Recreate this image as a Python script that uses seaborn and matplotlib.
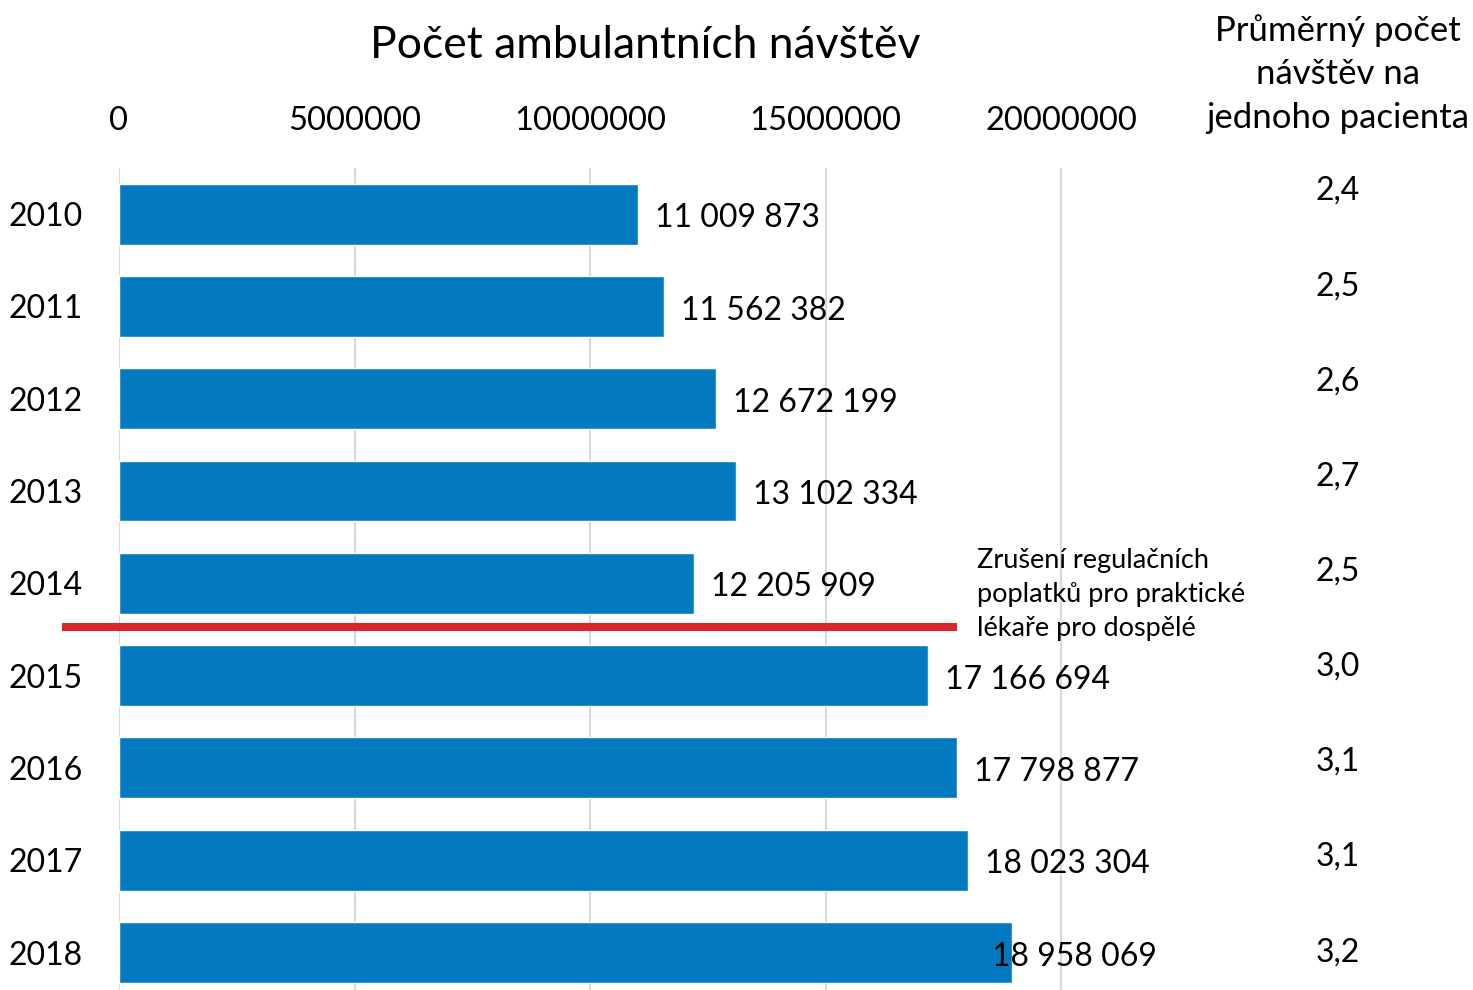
import matplotlib
matplotlib.use("Agg")
import matplotlib.pyplot as plt
import seaborn as sns
import pandas as pd

# Outpatient visits per year and average visits per patient
years = ["2010", "2011", "2012", "2013", "2014", "2015", "2016", "2017", "2018"]
visits = [11009873, 11562382, 12672199, 13102334, 12205909,
          17166694, 17798877, 18023304, 18958069]
visits_per_patient = [2.4, 2.5, 2.6, 2.7, 2.5, 3.0, 3.1, 3.1, 3.2]
x_ticks = [0, 5000000, 10000000, 15000000, 20000000]

title = "Počet ambulantních návštěv"
right_header = "Průměrný počet\nnávštěv na\njednoho pacienta"
note = "Zrušení regulačních\npoplatků pro praktické\nlékaře pro dospělé"

BLUE = "#037ABF"
RED = "#D9262E"
GRID = "#D9D9D9"
FONT = ["Lato", "DejaVu Sans"]

sns.set_theme(style="white")
plt.rcParams["font.family"] = FONT

W, H = 1473, 990
fig = plt.figure(figsize=(W / 100, H / 100), dpi=100)

# main axes: left edge at x=119 px, top at y=168 px, down to the bottom edge
ax_left, ax_right, ax_top, ax_bottom = 119, 1180, 168, 990
ax = fig.add_axes([ax_left / W, 1 - ax_bottom / H,
                   (ax_right - ax_left) / W, (ax_bottom - ax_top) / H])

df = pd.DataFrame({"year": years, "visits": visits})
sns.barplot(data=df, x="visits", y="year", orient="h", color=BLUE,
            saturation=1, width=0.66, ax=ax, zorder=3)

px_per_unit = (1061 - 119) / 20000000
ax.set_xlim(0, (ax_right - ax_left) / px_per_unit)
ax.set_ylim(8.406, -0.5)

ax.xaxis.tick_top()
ax.set_xticks(x_ticks)
ax.set_xticklabels([str(t) for t in x_ticks], fontsize=23.5)
ax.tick_params(axis="x", length=0, pad=23, colors="black")
ax.tick_params(axis="y", length=0, pad=26, labelsize=23, colors="black")
ax.set_xlabel("")
ax.set_ylabel("")
ax.grid(axis="x", color=GRID, linewidth=1.5, zorder=0)
ax.grid(axis="y", visible=False)
for s in ax.spines.values():
    s.set_visible(False)
ax.set_axisbelow(True)

# value labels beside each bar (space as thousands separator)
offset = 17 / px_per_unit
for i, v in enumerate(visits):
    lbl = f"{v:,}".replace(",", " ")
    dx = offset if i < len(visits) - 1 else -20 / px_per_unit
    ax.text(v + dx, i + 0.045, lbl, ha="left", va="center", fontsize=23,
            color="black", zorder=4)

# policy change marker between 2014 and 2015
ax.plot([-57 / px_per_unit, (957 - 119) / px_per_unit], [4.47, 4.47],
        color=RED, linewidth=5.8, solid_capstyle="butt", clip_on=False, zorder=5)
ax.text((977 - 119) / px_per_unit, 4.12, note, ha="left", va="center",
        fontsize=19.5, linespacing=1.45, color="black")

# right column: average visits per patient
ax2 = fig.add_axes([1230 / W, 1 - 999.6 / H, 216 / W, (999.6 - 143.4) / H])
ax2.set_xlim(0, 1)
ax2.set_ylim(8.5, -0.5)
ax2.axis("off")
for i, v in enumerate(visits_per_patient):
    ax2.text(0.5, i, f"{v:.1f}".replace(".", ","), ha="center", va="center",
             fontsize=23, color="black")

fig.text(1338 / W, 1 - 74 / H, right_header, ha="center", va="center",
         fontsize=25, linespacing=1.45, color="black")
fig.text(645 / W, 1 - 45 / H, title, ha="center", va="center",
         fontsize=32, color="black")

fig.savefig("out.png", dpi=100)
